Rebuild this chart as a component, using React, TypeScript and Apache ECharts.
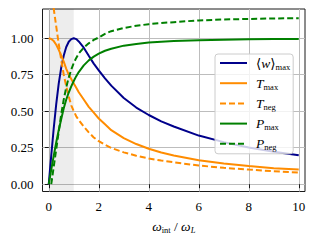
import React, { useEffect, useRef } from "react";
import * as echarts from "echarts";

// Shared x samples (ω_int / ω_L)
const xValues = [0, 0.1, 0.2, 0.3, 0.4, 0.5, 0.6, 0.7, 0.8, 0.9, 1.0, 1.1, 1.2, 1.4, 1.6, 1.8, 2.0, 2.25, 2.5, 3.0, 3.5, 4.0, 4.5, 5, 6, 7, 8, 9, 10];

const wMax = [0, 0.198, 0.385, 0.55, 0.69, 0.8, 0.882, 0.94, 0.976, 0.994, 1.0, 0.994, 0.978, 0.935, 0.88, 0.826, 0.78, 0.725, 0.675, 0.59, 0.525, 0.474, 0.43, 0.395, 0.333, 0.288, 0.252, 0.223, 0.198];
const tMax = [1.0, 0.995, 0.98, 0.955, 0.92, 0.88, 0.84, 0.79, 0.75, 0.72, 0.69, 0.66, 0.63, 0.58, 0.53, 0.49, 0.45, 0.41, 0.37, 0.316, 0.275, 0.243, 0.217, 0.196, 0.164, 0.141, 0.124, 0.11, 0.1];
const tNeg = [null, 1.33, 1.2, 1.08, 0.96, 0.85, 0.75, 0.67, 0.6, 0.54, 0.5, 0.465, 0.44, 0.395, 0.355, 0.32, 0.295, 0.27, 0.248, 0.218, 0.195, 0.176, 0.162, 0.15, 0.128, 0.112, 0.1, 0.089, 0.08];
const pMax = [0, 0.1, 0.196, 0.287, 0.371, 0.447, 0.52, 0.58, 0.628, 0.67, 0.707, 0.74, 0.768, 0.814, 0.848, 0.874, 0.894, 0.914, 0.928, 0.949, 0.961, 0.97, 0.976, 0.981, 0.986, 0.99, 0.992, 0.994, 0.995];
const pNeg = [null, 0, 0.12, 0.24, 0.36, 0.48, 0.58, 0.665, 0.73, 0.785, 0.83, 0.865, 0.895, 0.935, 0.965, 0.988, 1.005, 1.03, 1.048, 1.07, 1.085, 1.096, 1.104, 1.11, 1.122, 1.128, 1.132, 1.135, 1.137];

const xTicks = [0, 2, 4, 6, 8, 10];
const yTicks = [0, 0.25, 0.5, 0.75, 1.0];
const shadedBand = [0, 1];

const seriesNames = ["wmax", "Tmax", "Tneg", "Pmax", "Pneg"];
const legendLabels: Record<string, string> = {
  wmax: "{n|⟨}{i|w}{n|⟩}{s|max}",
  Tmax: "{i|T}{s|max}",
  Tneg: "{i|T}{s|neg}",
  Pmax: "{i|P}{s|max}",
  Pneg: "{i|P}{s|neg}",
};

const FONT = "'Liberation Serif', 'DejaVu Serif', serif";
const NAVY = "#00008b";
const ORANGE = "#ff8c00";
const GREEN = "#008000";

const pairs = (ys: (number | null)[]) => xValues.map((x, i) => [x, ys[i]]);

export default function App() {
  const ref = useRef<HTMLDivElement>(null);
  useEffect(() => {
    const chart = echarts.init(ref.current!, null, { renderer: "svg" });
    const rich = {
      i: { fontStyle: "italic", fontSize: 13.5, fontFamily: FONT, color: "#000" },
      n: { fontSize: 13.5, fontFamily: FONT, color: "#000" },
      s: { fontSize: 8.5, fontFamily: FONT, color: "#000", padding: [7, 0, 0, 0] },
      si: { fontSize: 8.5, fontStyle: "italic", fontFamily: FONT, color: "#000", padding: [7, 0, 0, 0] },
    };
    const lineSeries = (name: string, data: (number | null)[], color: string, dashed: boolean, extra: any = {}) => ({
      name,
      type: "line",
      data: pairs(data),
      symbol: "none",
      lineStyle: { color, width: 2, type: dashed ? [6, 3] : "solid" },
      itemStyle: { color },
      ...extra,
    });
    chart.setOption({
      animation: false,
      grid: {
        left: 42.5,
        top: 9,
        right: 10,
        bottom: 49.5,
        show: true,
        borderColor: "#1a1a1a",
        borderWidth: 1,
        backgroundColor: "transparent",
      },
      xAxis: {
        type: "value",
        min: -0.25,
        max: 10.25,
        axisLine: { show: false },
        axisTick: { show: true, length: 4, lineStyle: { color: "#1a1a1a" }, customValues: xTicks },
        axisLabel: { customValues: xTicks, fontFamily: FONT, fontSize: 13, color: "#000", margin: 8 },
        splitLine: { show: true, lineStyle: { color: "#bdbdbd", width: 1 } },
        name: "{i|ω}{s|int}{n| / }{i|ω}{si|L}",
        nameLocation: "middle",
        nameGap: 27,
        nameTextStyle: { rich },
      },
      yAxis: {
        type: "value",
        min: -0.05,
        max: 1.2,
        axisLine: { show: false },
        axisTick: { show: true, length: 4, lineStyle: { color: "#1a1a1a" }, customValues: yTicks },
        axisLabel: {
          customValues: yTicks,
          fontFamily: FONT,
          fontSize: 13,
          color: "#000",
          margin: 9,
          formatter: (v: number) => v.toFixed(2),
        },
        splitLine: { show: true, lineStyle: { color: "#bdbdbd", width: 1 } },
      },
      legend: {
        orient: "vertical",
        left: 215,
        top: 54,
        data: seriesNames,
        itemWidth: 27,
        itemHeight: 12,
        itemGap: 5.2,
        padding: [2, 3, 2, 4],
        backgroundColor: "rgba(255,255,255,0.8)",
        borderColor: "#cccccc",
        borderWidth: 1,
        borderRadius: 3,
        itemStyle: { opacity: 0 },
        formatter: (name: string) => legendLabels[name],
        textStyle: { rich, padding: [0, 0, 0, 4] },
      },
      series: [
        lineSeries("wmax", wMax, NAVY, false, {
          markArea: {
            silent: true,
            itemStyle: { color: "rgba(0,0,0,0.07)" },
            data: [[{ xAxis: shadedBand[0] }, { xAxis: shadedBand[1] }]],
          },
        }),
        lineSeries("Tmax", tMax, ORANGE, false),
        lineSeries("Tneg", tNeg, ORANGE, true),
        lineSeries("Pmax", pMax, GREEN, false),
        lineSeries("Pneg", pNeg, GREEN, true),
      ],
    });
    return () => chart.dispose();
  }, []);
  return <div ref={ref} style={{ position: "absolute", left: 0, top: 0, width: 315, height: 241 }} />;
}
